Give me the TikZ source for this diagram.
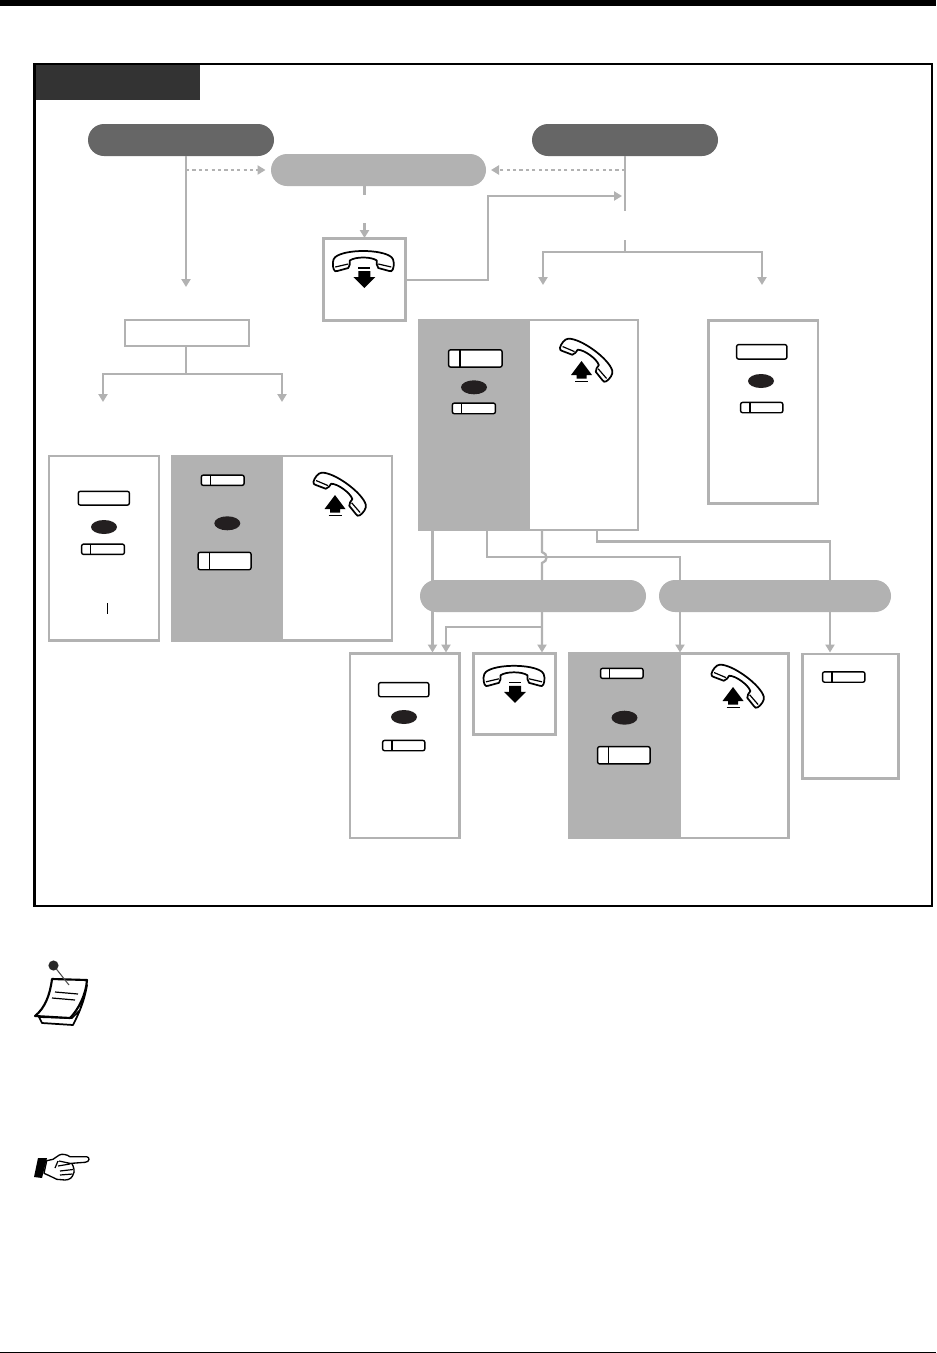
\documentclass[tikz,border=0pt]{standalone}
\usetikzlibrary{arrows.meta,shapes.geometric}
\definecolor{lg}{HTML}{B2B2B2}
\definecolor{dg}{HTML}{666666}
\definecolor{tabc}{HTML}{333333}
\definecolor{ink}{HTML}{231F20}
\tikzset{
  x=0.75pt,y=-0.75pt,
  every node/.style={inner sep=0pt,outer sep=0pt},
  box/.style={draw=lg,line width=1.75pt,fill=white,rectangle},
  gbox/.style={fill=lg,rectangle},
  pillk/.style={rounded corners=12pt},
  wire/.style={draw=lg,line width=1.7pt},
  awire/.style={draw=lg,line width=1.7pt,-{Triangle[length=6pt,width=6.8pt]}},
  dwire/.style={draw=lg,line width=1.5pt,dash pattern=on 2.4pt off 2.4pt,-{Triangle[length=6pt,width=6.8pt]}},
  handset/.style={draw=black,line width=1.3pt,fill=white,line join=round},
  keyk/.style={draw=black,line width=1.05pt,fill=white,rounded corners=1.5pt},
}
% \rbox{name}{x1}{y1}{x2}{y2}{style}
\newcommand{\rbox}[6]{\node[#6,minimum width={(#4-#2)*0.75pt},minimum height={(#5-#3)*0.75pt}] (#1) at ({(#2+#4)/2},{(#3+#5)/2}) {};}
% plain key (outer edges given)
\newcommand{\pkey}[5]{\node[keyk,minimum width={(#4-#2-1.2)*0.75pt},minimum height={(#5-#3-1.2)*0.75pt}] (#1) at ({(#2+#4)/2},{(#3+#5)/2}) {};}
% split key: name x1 y1 x2 y2 sep
\newcommand{\skey}[6]{\pkey{#1}{#2}{#3}{#4}{#5}\draw[black,line width=0.8pt] (#6,#3+0.5) -- (#6,#5-0.5);}
\newcommand{\dotk}[3]{\node[ellipse,fill=ink,minimum width=19.5pt,minimum height=10.5pt] (#1) at (#2,#3) {};}
\newcommand{\handsetpath}{
  \draw[handset] (-28,6) .. controls (-18,-2) and (18,-2) .. (28,6)
     .. controls (31,8) and (31,15) .. (29.5,18.5) .. controls (29,20.5) and (27,20.5) .. (26,20) -- (15,17)
     .. controls (13,15) and (13.5,12) .. (13.5,9.5) .. controls (8,5.5) and (-8,5.5) .. (-13.5,9.5)
     .. controls (-13.5,12) and (-13,15) .. (-15,17) -- (-26,20) .. controls (-27,20.5) and (-29,20.5) .. (-29.5,18.5)
     .. controls (-31,15) and (-31,8) .. (-28,6) -- cycle;
  \draw[black,line width=0.9pt] (-28,16) -- (-15,13) (28,16) -- (15,13);
}
% phone down: #1 x (centre) #2 y (top)
\newcommand{\phonedown}[2]{\begin{scope}[shift={(#1,#2)}]
  \handsetpath
  \draw[black,line width=0.9pt] (-5,17) -- (7,17);
  \fill[black] (-5,20) -- (7,20) -- (7,26) -- (12,26) -- (1,37) -- (-10,26) -- (-5,26) -- cycle;
\end{scope}}
% phone up: #1 x #2 y reference point
\newcommand{\phoneup}[2]{\begin{scope}[shift={(#1,#2)}]
  \begin{scope}[shift={(1.5,-2.2)},rotate=-36,scale=0.97,shift={(0,-10)}]\handsetpath\end{scope}
  \fill[black] (-5,1) -- (-15.5,15) -- (-10,15) -- (-10,18.7) -- (0,18.7) -- (0,15) -- (5.5,15) -- cycle;
  \draw[black,line width=0.9pt] (-11.5,21.3) -- (1.5,21.3);
\end{scope}}
\begin{document}
\begin{tikzpicture}
\useasboundingbox (0,0) rectangle (936,1353);
\fill[white] (0,0) rectangle (936,1353);
\fill[black] (0,0) rectangle (936,6);
\fill[black] (0,1352) rectangle (936,1353);
% frame
\rbox{frame}{34.7}{64}{932}{906}{draw=black,line width=1.9pt,fill=white}
\rbox{tab}{36}{65}{200}{100}{fill=tabc}
% pills and boxes
\rbox{pillA}{88}{124}{274}{156}{fill=dg,pillk}
\rbox{pillB}{532}{124}{718}{156}{fill=dg,pillk}
\rbox{pillC}{271}{154}{486}{186}{fill=lg,pillk}
\rbox{phonebox}{323.5}{238.5}{405.5}{320.5}{box}
\rbox{textbox}{125.3}{320.2}{248.7}{345.8}{box}
\rbox{lA}{49.2}{456.2}{158.8}{640.5}{box}
\rbox{lB}{172}{456}{392}{640.5}{box}
\rbox{lBg}{171}{455}{282.5}{641.5}{gbox}
\rbox{cA}{418.7}{320.2}{637.8}{530}{box}
\rbox{cAg}{417.5}{319}{529.5}{531}{gbox}
\rbox{rA}{708.5}{320.5}{817.8}{503.5}{box}
\rbox{dA}{350.2}{653.5}{459.5}{838}{box}
\rbox{dB}{473.5}{653.5}{555.5}{734.5}{box}
\rbox{dC}{569.5}{653.5}{788.5}{838}{box}
\rbox{dCg}{568}{652.3}{680.7}{839}{gbox}
\rbox{dD}{802.4}{654}{898.6}{778.7}{box,line width=2.05pt}
% connector ends
\coordinate (a0) at (186,156);
\coordinate (a1) at (186,287);
\coordinate (a2) at (186,170);
\coordinate (c1) at (265.5,170);
\coordinate (b0) at (625,156);
\coordinate (b1) at (625,170);
\coordinate (c2) at (491,170);
\coordinate (b2) at (625,211);
\coordinate (b3) at (625,240);
\coordinate (b4) at (625,252);
\coordinate (b5) at (543,285);
\coordinate (b6) at (762,285);
\coordinate (s0) at (364.5,186);
\coordinate (s1) at (364.5,195);
\coordinate (s2) at (364.5,223);
\coordinate (s3) at (364.5,238);
\coordinate (p1) at (405.5,280);
\coordinate (p2) at (488,280);
\coordinate (p3) at (488,196);
\coordinate (t1) at (622,196);
\coordinate (x0) at (186,346);
\coordinate (x3) at (186,374);
\coordinate (x1) at (103,402);
\coordinate (x2) at (282,402);
\coordinate (w1a) at (432.5,530);
\coordinate (w1b) at (432.5,652.5);
\coordinate (w2a) at (542,530);
\coordinate (w2b) at (542,552);
\coordinate (w2c) at (542,563);
\coordinate (w2d) at (542,627);
\coordinate (w2e) at (542,652.5);
\coordinate (w3a) at (446,627);
\coordinate (w3b) at (446,652.5);
\coordinate (w4a) at (487,530);
\coordinate (w4b) at (487,557);
\coordinate (w4c) at (680,557);
\coordinate (w4d) at (680,652.5);
\coordinate (w5a) at (597,530);
\coordinate (w5b) at (597,541.5);
\coordinate (w5c) at (830,541.5);
\coordinate (w5d) at (830,652.5);
\draw[awire] (a0) -- (a1);
\draw[dwire] (a2) -- (c1);
\draw[wire] (b0) -- (b2);
\draw[dwire] (b1) -- (c2);
\draw[wire] (b3) -- (b4);
\draw[awire] (b4) -| (b5);
\draw[awire] (b4) -| (b6);
\draw[wire] (s0) -- (s1);
\draw[awire] (s2) -- (s3);
\draw[awire] (p1) -- (p2) -- (p3) -- (t1);
\draw[wire] (x0) -- (x3);
\draw[awire] (x3) -| (x1);
\draw[awire] (x3) -| (x2);
\draw[awire] (w1a) -- (w1b);
\draw[awire] (w2d) -- (w3a) -- (w3b);
\draw[awire] (w2a) -- (w2b) .. controls (548,553.5) and (548,561.5) .. (w2c) -- (w2e);
\draw[awire] (w4a) -- (w4b) -- (w4c) -- (w4d);
\draw[awire] (w5a) -- (w5b) -- (w5c) -- (w5d);
\rbox{pillD}{420}{580}{646}{612}{fill=lg,pillk}
\rbox{pillE}{659}{580}{891}{612}{fill=lg,pillk}
% contents
\phonedown{363.3}{251}
\phoneup{340}{494}
\phoneup{586.5}{360}
\phonedown{514}{665.8}
\phoneup{738}{686}
\pkey{k1}{77.7}{490.7}{130}{505.7}
\dotk{e1}{104}{527}
\skey{k2}{81}{543.5}{125}{555}{90.7}
\draw[black,line width=0.6pt] (107.4,603) -- (107.4,613.5);
\skey{k3}{200.7}{474.5}{244.7}{486}{210.3}
\dotk{e2}{227.3}{523.3}
\skey{k4}{197.5}{551.7}{251.7}{570.3}{209.3}
\skey{k5}{448}{349.2}{502.7}{367.7}{460}
\dotk{e3}{474}{387.3}
\skey{k6}{451.7}{402.5}{496}{414.3}{461.3}
\pkey{k7}{736}{344}{787.5}{359.7}
\dotk{e4}{761}{381}
\skey{k8}{740}{401.8}{783.5}{413.3}{750}
\pkey{k9}{378}{682}{429.5}{697.3}
\dotk{e5}{404}{717}
\skey{k10}{382}{739.8}{425.5}{751.3}{392}
\skey{k11}{600}{667.7}{643.7}{679}{609.5}
\dotk{e6}{624.5}{717.7}
\skey{k12}{597}{746}{650.7}{764.5}{608.5}
\skey{k13}{822}{671.2}{865.5}{682.8}{832}
% memo icon
\draw[black,line width=1.3pt,fill=white,line join=round] (39,1017) -- (42,1023) -- (73,1025) .. controls (78,1015) and (84,1003) .. (87,985) -- (80,1010) -- (72,1018) -- cycle;
\draw[black,line width=1.6pt,fill=white,line join=round] (52,979) -- (87,980) .. controls (86,995) and (78,1010) .. (70,1018) -- (35,1016) .. controls (45,1008) and (50,995) .. (52,979) -- cycle;
\draw[black,line width=0.9pt] (55,992) -- (78,994) (52,998) -- (75,1000);
\draw[black!70,line width=0.8pt] (54,966) -- (69,985);
\fill[black!85] (53.5,965.5) circle (3.8pt);
% pointing hand
\fill[black] (38,1158) -- (47,1158) -- (42,1178) -- (34,1177) -- cycle;
\draw[black,line width=1pt,fill=white,line join=round] (46.7,1160.7) -- (53,1159.3) -- (59.3,1155) .. controls (62,1153.5) and (67,1154.5) .. (70,1156.7) -- (86.7,1156.7) .. controls (90,1157) and (90,1162) .. (85,1162.3) -- (71.7,1163.3) .. controls (74,1167) and (75,1172) .. (73.3,1174) .. controls (72.5,1177) and (70,1180) .. (65,1180) -- (56.7,1179.3) -- (50,1176) -- (44,1173.3) -- cycle;
\draw[black,line width=0.9pt] (59,1161) -- (71,1163.5) (58,1166) -- (70,1164) (60,1171) -- (73,1169.5) (60,1175) -- (72.5,1174) (58,1161) -- (55,1168);
\end{tikzpicture}
\end{document}
